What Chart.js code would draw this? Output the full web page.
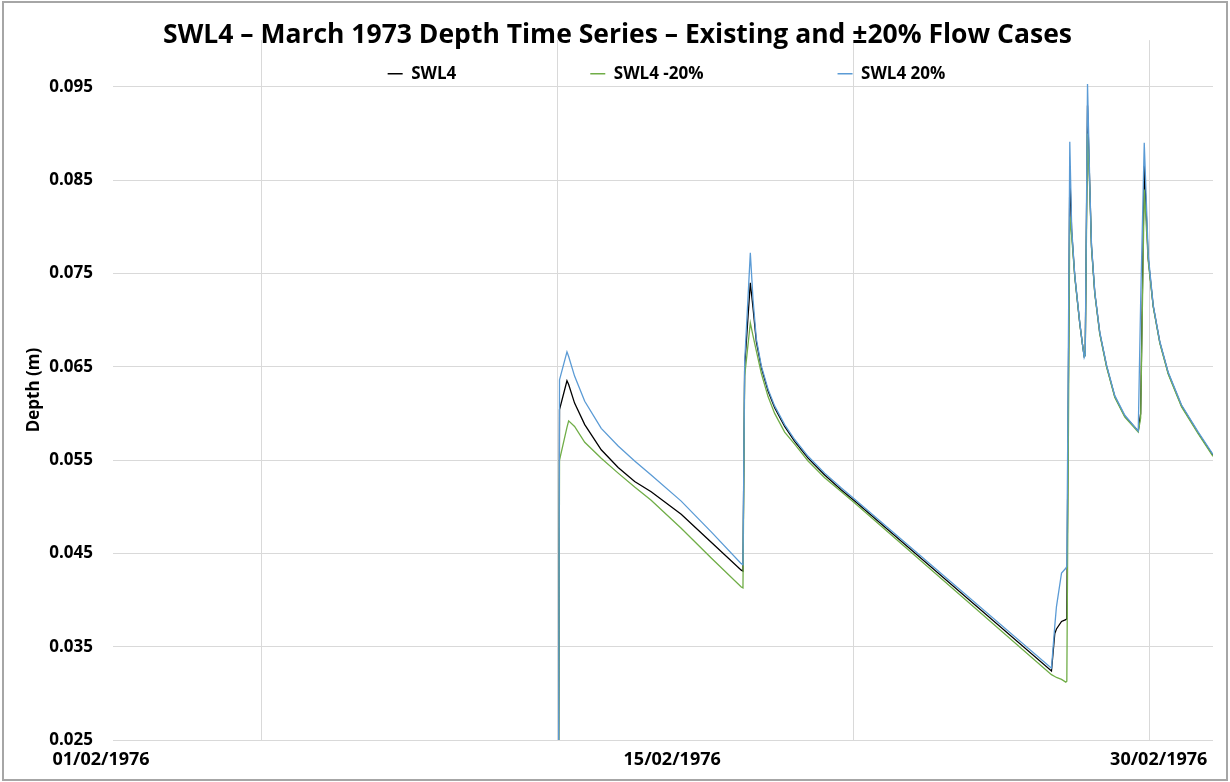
<!DOCTYPE html>
<html>
<head>
<meta charset="utf-8">
<script src="https://cdn.jsdelivr.net/npm/chart.js@4.4.1/dist/chart.umd.min.js"></script>
<style>
html, body { margin: 0; padding: 0; background: #ffffff; }
#wrap { position: relative; width: 1230px; height: 782px; }
#c { position: absolute; left: 0; top: 0; }
#frame { position: absolute; left: 2px; top: 1px; width: 1222px; height: 776px; border: 2px solid #a6a6a6; pointer-events: none; }
</style>
</head>
<body>
<div id="wrap">
  <canvas id="c" width="1230" height="782"></canvas>
  <div id="frame"></div>
</div>
<script>
// ---- data (time in days from the start of the axis) ----
const timeDays = [0.00, 10.52, 10.554, 10.73, 10.77, 10.91, 11.15, 11.54, 11.94, 12.33, 12.72, 13.43, 14.14, 14.85, 14.89, 14.93, 15.064, 15.128, 15.206, 15.324, 15.483, 15.639, 15.875, 16.112, 16.429, 16.821, 17.216, 17.531, 22.182, 22.26, 22.30, 22.42, 22.52, 22.545, 22.615, 22.66, 22.733, 22.852, 22.915, 22.956, 22.98, 23.034, 23.088, 23.128, 23.206, 23.324, 23.483, 23.679, 23.916, 24.233, 24.29, 24.375, 24.469, 24.587, 24.743, 24.942, 25.257, 25.652, 26.00];
const swl4 = [0, 0, 0.0604, 0.0635, 0.0631, 0.0611, 0.0588, 0.0561, 0.0542, 0.0527, 0.0516, 0.0492, 0.0462, 0.0432, 0.0431, 0.0650, 0.0740, 0.0713, 0.0677, 0.0649, 0.0624, 0.0606, 0.0586, 0.0570, 0.0552, 0.0534, 0.0518, 0.0506, 0.0324, 0.0364, 0.0369, 0.0377, 0.0379, 0.0380, 0.0860, 0.0795, 0.0747, 0.0696, 0.0674, 0.0661, 0.0662, 0.0930, 0.0842, 0.0779, 0.0729, 0.0686, 0.0651, 0.0618, 0.0597, 0.0581, 0.0600, 0.0865, 0.0766, 0.0715, 0.0676, 0.0643, 0.0608, 0.0579, 0.0555];
const swl4Minus20 = [0, 0, 0.0550, 0.0585, 0.0592, 0.0586, 0.0569, 0.0552, 0.0536, 0.0521, 0.0507, 0.0477, 0.0445, 0.0414, 0.0413, 0.0640, 0.0697, 0.0683, 0.0667, 0.0643, 0.0618, 0.0600, 0.0580, 0.0567, 0.0549, 0.0531, 0.0516, 0.0504, 0.0320, 0.0318, 0.0317, 0.0315, 0.0312, 0.0313, 0.0811, 0.0790, 0.0746, 0.0696, 0.0674, 0.0661, 0.0662, 0.0900, 0.0838, 0.0777, 0.0728, 0.0685, 0.0650, 0.0617, 0.0596, 0.0580, 0.0595, 0.0840, 0.0763, 0.0714, 0.0675, 0.0642, 0.0607, 0.0578, 0.0554];
const swl4Plus20 = [0, 0, 0.0636, 0.0666, 0.0661, 0.0640, 0.0613, 0.0584, 0.0565, 0.0549, 0.0534, 0.0506, 0.0473, 0.0439, 0.0438, 0.0655, 0.0772, 0.0722, 0.0680, 0.0651, 0.0626, 0.0608, 0.0588, 0.0572, 0.0554, 0.0536, 0.0520, 0.0508, 0.0327, 0.0372, 0.0393, 0.0429, 0.0434, 0.0436, 0.0891, 0.0798, 0.0748, 0.0697, 0.0674, 0.0660, 0.0663, 0.0953, 0.0845, 0.0781, 0.0730, 0.0687, 0.0652, 0.0619, 0.0598, 0.0581, 0.0720, 0.0890, 0.0770, 0.0716, 0.0677, 0.0644, 0.0609, 0.0580, 0.0556];

const seriesNames = ['SWL4', 'SWL4 -20%', 'SWL4 20%'];
const seriesColors = ['#000000', '#70AD47', '#5B9BD5'];

const yTickValues = [0.025, 0.035, 0.045, 0.055, 0.065, 0.075, 0.085, 0.095];
const xGridDays = [3.5, 10.5, 17.5, 24.5];
const xLabelDays = [0, 13.5, 25.0];
const xLabels = ['01/02/1976', '15/02/1976', '30/02/1976'];

const chartTitle = 'SWL4 – March 1973 Depth Time Series – Existing and ±20% Flow Cases';
const yAxisTitle = 'Depth (m)';

// ---- chart ----
const FONT = 'Open Sans';
const LEGEND_BOX = 113;
const LEGEND_LINE = 15;

const toPoints = (vals) => timeDays.map((t, i) => ({ x: t, y: vals[i] }));
const seriesValues = [swl4, swl4Minus20, swl4Plus20];

const datasets = seriesNames.map((name, i) => ({
  label: name,
  data: toPoints(seriesValues[i]),
  borderColor: seriesColors[i],
  backgroundColor: seriesColors[i],
  borderWidth: 1.3,
  pointRadius: 0,
  tension: 0,
  fill: false,
  order: 3 - i
}));

const allXTicks = [...new Set([...xGridDays, ...xLabelDays])].sort((a, b) => a - b);

// let the legend overlay the top of the plot area (it takes almost no layout space)
const legendOverlay = {
  id: 'legendOverlay',
  afterLayout(chart) {
    const lg = chart.legend;
    if (lg) { lg.height = 70; lg.bottom = lg.top + 70; }
  }
};

new Chart(document.getElementById('c'), {
  type: 'line',
  data: { datasets },
  plugins: [legendOverlay],
  options: {
    responsive: false,
    animation: false,
    events: [],
    layout: { padding: { left: 22, right: 17, top: 0, bottom: 0 } },
    plugins: {
      title: {
        display: true,
        text: chartTitle,
        color: '#000000',
        font: { family: FONT, weight: 'bold', size: 26.5, lineHeight: 0.01 },
        padding: { top: 35, bottom: -6 }
      },
      legend: {
        display: true,
        position: 'top',
        align: 'center',
        maxHeight: 10.87,
        labels: {
          font: { family: FONT, weight: 'bold', size: 17 },
          color: '#000000',
          boxWidth: LEGEND_BOX,
          boxHeight: 0,
          padding: 36,
          generateLabels: (chart) => chart.data.datasets.map((ds, i) => ({
            text: ds.label,
            fillStyle: 'rgba(0,0,0,0)',
            strokeStyle: ds.borderColor,
            lineWidth: 1.5,
            lineCap: 'butt',
            lineDash: [0, LEGEND_BOX - LEGEND_LINE, LEGEND_LINE, 4000],
            lineDashOffset: 0,
            fontColor: '#000000',
            hidden: false,
            datasetIndex: i
          }))
        }
      },
      tooltip: { enabled: false }
    },
    scales: {
      x: {
        type: 'linear',
        min: 0,
        max: 26,
        afterBuildTicks: (s) => { s.ticks = allXTicks.map(v => ({ value: v })); },
        afterFit: (s) => { s.height = 42; },
        ticks: {
          autoSkip: false,
          maxRotation: 0,
          minRotation: 0,
          padding: 9,
          labelOffset: -12,
          color: '#000000',
          font: { family: FONT, weight: 'bold', size: 18 },
          callback: (v) => { const i = xLabelDays.indexOf(v); return i >= 0 ? xLabels[i] : ''; }
        },
        grid: {
          drawTicks: false,
          lineWidth: 1,
          color: (ctx) => (ctx.tick && xGridDays.includes(ctx.tick.value)) ? '#d9d9d9' : 'rgba(0,0,0,0)'
        },
        border: { display: false }
      },
      y: {
        type: 'linear',
        min: 0.025,
        max: 0.1,
        afterBuildTicks: (s) => { s.ticks = yTickValues.map(v => ({ value: v })); },
        afterFit: (s) => { s.width = 91; },
        ticks: {
          padding: 20,
          color: '#000000',
          font: { family: FONT, weight: 'bold', size: 17 },
          callback: (v) => Number(v).toFixed(3)
        },
        grid: { drawTicks: false, color: '#d9d9d9', lineWidth: 1 },
        border: { display: false },
        title: {
          display: true,
          text: yAxisTitle,
          color: '#000000',
          font: { family: FONT, weight: 'bold', size: 17 },
          padding: { top: 2, bottom: 0 }
        }
      }
    }
  }
});
</script>
</body>
</html>
